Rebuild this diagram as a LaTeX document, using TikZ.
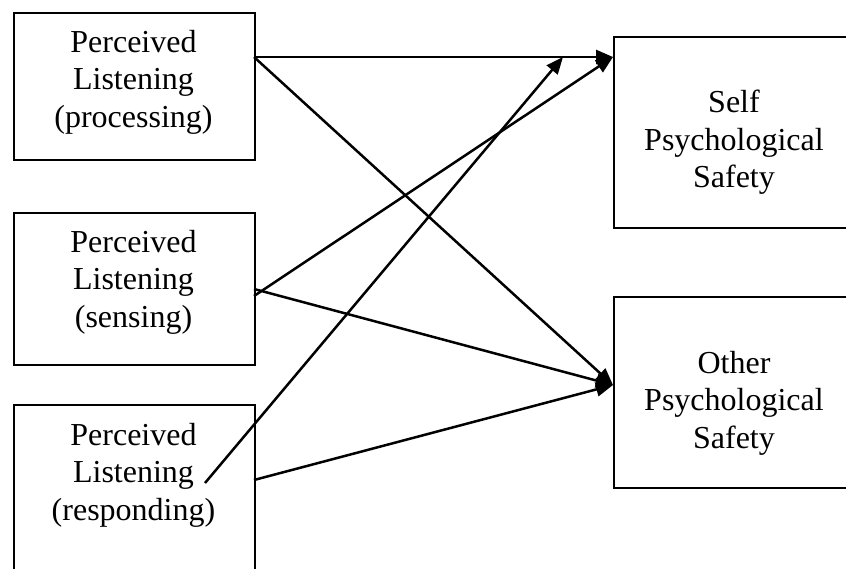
\documentclass[tikz,border=0pt]{standalone}
\usepackage{fontspec}
\setmainfont{Liberation Serif}
\usetikzlibrary{arrows.meta}

\begin{document}
\begin{tikzpicture}[x=1pt, y=-1pt,
  caja/.style={draw, line width=2.3pt, minimum width=241pt, anchor=north west, inner sep=0pt},
  texto/.style={align=center, anchor=north, inner sep=0pt, font=\fontsize{32}{37.5}\selectfont},
  flecha/.style={line width=2.5pt, -{Triangle[length=17pt,width=14pt]}}]

\useasboundingbox (0,0) rectangle (846,569);

% --- Cajas de la izquierda ---
\node[caja, minimum height=147pt] (proc) at (13,12) {};
\node[caja, minimum height=152pt] (sens) at (13,212) {};
\node[caja, minimum height=200pt] (resp) at (13,404) {}; % sigue debajo del borde

% --- Cajas de la derecha ---
\node[caja, minimum width=245pt, minimum height=191pt] (self)  at (613,36) {};
\node[caja, minimum width=245pt, minimum height=191pt] (other) at (613,296) {};

% --- Textos ---
\node[texto] (tproc)  at (133.5,30)  {Perceived\\Listening\\(processing)};
\node[texto] (tsens)  at (133.5,230) {Perceived\\Listening\\(sensing)};
\node[texto] (tresp)  at (133.5,423) {Perceived\\Listening\\(responding)};
\node[texto] (tself)  at (734,90)    {Self\\Psychological\\Safety};
\node[texto] (tother) at (734,351)   {Other\\Psychological\\Safety};

% --- Puntos de salida y llegada ---
\coordinate (P)  at (254,57);   % processing
\coordinate (Sa) at (254,289);  % sensing, hacia abajo
\coordinate (Sb) at (254,296);  % sensing, hacia arriba
\coordinate (Ri) at (205,483);  % responding, desde dentro
\coordinate (Ro) at (254,480);  % responding
\coordinate (SI) at (613,57);   % entrada self
\coordinate (OI) at (613,385);  % entrada other
\coordinate (M)  at (563,57);   % sobre la flecha horizontal

% --- Flechas ---
\draw[flecha] (P) -- (SI);
\draw[flecha] (P) -- (OI);
\draw[flecha] (Sb) -- (SI);
\draw[flecha] (Sa) -- (OI);
\draw[flecha] (Ri) -- (M);
\draw[flecha] (Ro) -- (OI);

\end{tikzpicture}
\end{document}
